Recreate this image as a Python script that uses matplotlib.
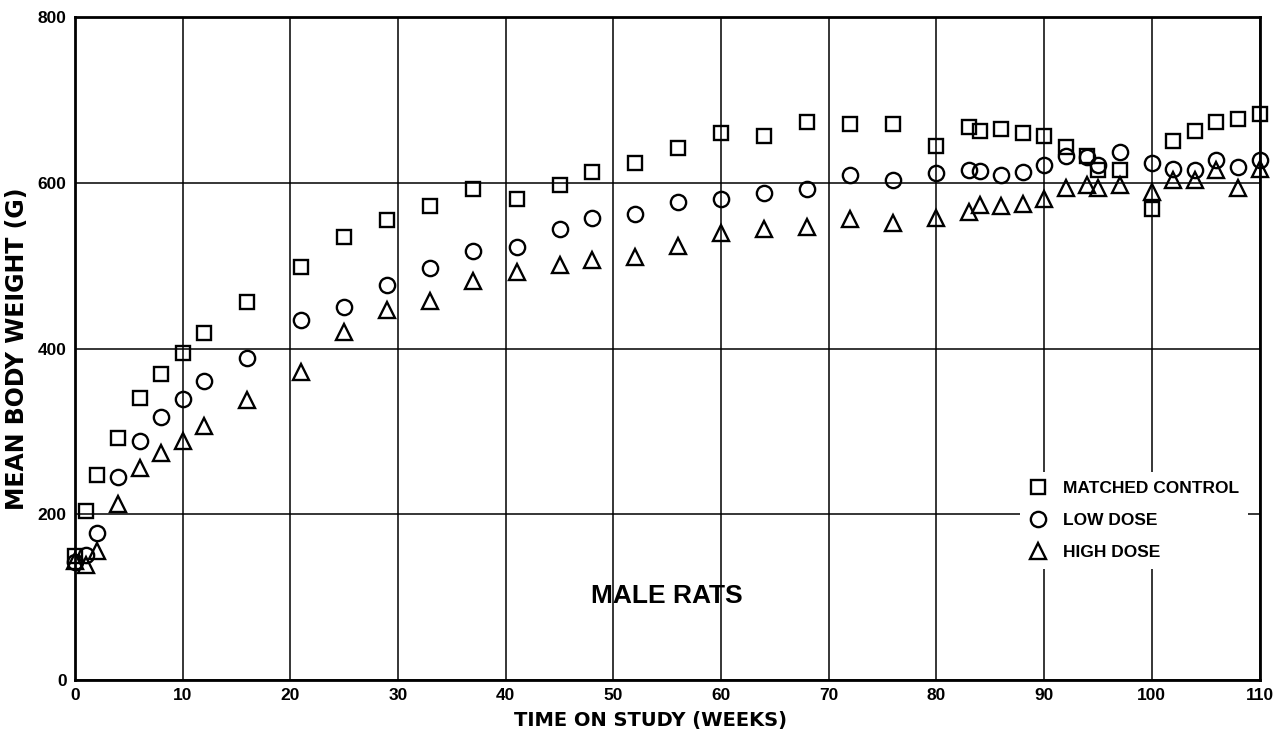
import matplotlib
matplotlib.use("Agg")
import matplotlib.pyplot as plt
from matplotlib.lines import Line2D

weeks = [0, 1, 2, 4, 6, 8, 10, 12, 16, 21, 25, 29, 33, 37, 41, 45, 48, 52, 56, 60,
         64, 68, 72, 76, 80, 83, 84, 86, 88, 90, 92, 94, 95, 97, 100, 102, 104, 106, 108, 110]
control = [150, 204, 248, 292, 340, 369, 395, 419, 456, 499, 535, 555, 572, 592, 581, 598, 613, 624, 642, 660,
           657, 673, 671, 671, 645, 667, 663, 665, 660, 657, 643, 633, 615, 616, 568, 650, 663, 673, 677, 683]
low_dose = [142, 151, 178, 245, 288, 318, 339, 361, 389, 435, 450, 477, 497, 518, 523, 544, 557, 563, 577, 581,
            588, 593, 609, 603, 612, 616, 614, 610, 613, 621, 633, 631, 621, 637, 624, 617, 615, 627, 619, 627]
high_dose = [144, 139, 156, 213, 256, 274, 289, 306, 338, 372, 420, 446, 458, 481, 492, 501, 507, 510, 524, 539,
             544, 547, 556, 552, 558, 565, 573, 572, 575, 581, 594, 597, 594, 597, 589, 604, 603, 616, 594, 617]

series_labels = ["MATCHED CONTROL", "LOW DOSE", "HIGH DOSE"]
x_ticks = list(range(0, 111, 10))
y_ticks = list(range(0, 801, 200))

fig = plt.figure(figsize=(12.8, 7.45), dpi=100)
ax = fig.add_axes([0.0586, 0.0872, 0.9254, 0.8898])

mk = dict(linestyle="none", markerfacecolor="none", markeredgecolor="black",
          markeredgewidth=1.7)
ax.plot(weeks, control, marker="s", markersize=10.5, clip_on=False, zorder=3, **mk)
ax.plot(weeks, low_dose, marker="o", markersize=11, clip_on=False, zorder=3, **mk)
ax.plot(weeks, high_dose, marker="^", markersize=11.5, clip_on=False, zorder=3, **mk)

ax.set_xlim(0, 110)
ax.set_ylim(0, 800)
ax.set_xticks(x_ticks)
ax.set_yticks(y_ticks)
ax.grid(True, color="black", linewidth=1.1, zorder=0)
ax.set_axisbelow(True)
for s in ax.spines.values():
    s.set_linewidth(2)
ax.tick_params(length=0, pad=6, labelsize=12.5)
for lab in ax.get_xticklabels() + ax.get_yticklabels():
    lab.set_fontweight("bold")
    lab.set_family("Liberation Sans")

ax.set_xlabel("TIME ON STUDY (WEEKS)", fontsize=14, fontweight="bold", family="DejaVu Sans")
ax.xaxis.set_label_coords(0.486, -0.046)
ax.set_ylabel("MEAN BODY WEIGHT (G)", fontsize=17, fontweight="bold", family="DejaVu Sans", labelpad=6)

ax.text(55, 102, "MALE RATS", fontsize=19, fontweight="bold", family="Liberation Sans",
        ha="center", va="center", zorder=4)

handles = [Line2D([], [], marker=m, markersize=s, **mk)
           for m, s in (("s", 10.5), ("o", 11), ("^", 11.5))]
leg = ax.legend(handles, series_labels, loc="upper left", bbox_to_anchor=(86.95, 262),
                bbox_transform=ax.transData, frameon=True, facecolor="white", edgecolor="none",
                framealpha=1, fancybox=False, handlelength=1.0, handletextpad=0.9,
                labelspacing=0.95, borderpad=0.55,
                prop=dict(family="Liberation Sans", weight="bold", size=12.5))
leg.set_zorder(5)

fig.savefig("out.png", dpi=100)
